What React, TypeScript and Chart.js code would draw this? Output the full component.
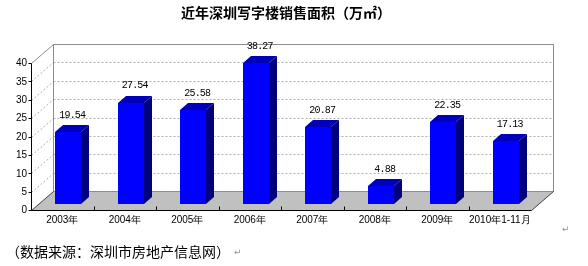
import React, { useEffect, useRef } from "react";
import { Chart, registerables } from "chart.js";

Chart.register(...registerables);

const CATEGORIES = ["2003年", "2004年", "2005年", "2006年", "2007年", "2008年", "2009年", "2010年1-11月"];
const AREA_VALUES = [19.54, 27.54, 25.58, 38.27, 20.87, 4.88, 22.35, 17.13];
const Y_TICKS = [0, 5, 10, 15, 20, 25, 30, 35, 40];
const TITLE = "近年深圳写字楼销售面积（万㎡）";
const SOURCE = "（数据来源：深圳市房地产信息网）";

const WALL_DX = 22;
const WALL_DY = -19;
const BAR_SHIFT_X = 6;
const BAR_SHIFT_Y = -6;
const BAR_DX = 8;
const BAR_DY = -7;

const threeDPlugin = {
  id: "threeD",
  beforeDatasetsDraw(chart: any) {
    const { ctx, chartArea: a, scales } = chart;
    const y = scales.y;
    const left = a.left + 0.5;
    const right = a.right + 0.5;
    const bottom = Math.round(y.getPixelForValue(0)) + 0.5;
    const top = Math.round(y.getPixelForValue(40)) + 0.5;
    ctx.save();
    ctx.fillStyle = "#ffffff";
    ctx.fillRect(left + WALL_DX, top + WALL_DY, right - left, bottom - top);
    ctx.fillStyle = "#c0c0c0";
    ctx.beginPath();
    ctx.moveTo(left, bottom);
    ctx.lineTo(right, bottom);
    ctx.lineTo(right + WALL_DX, bottom + WALL_DY);
    ctx.lineTo(left + WALL_DX, bottom + WALL_DY);
    ctx.closePath();
    ctx.fill();
    ctx.lineWidth = 1;
    ctx.strokeStyle = "#b0b0b0";
    ctx.setLineDash([2, 2]);
    for (const v of Y_TICKS) {
      if (v === 0 || v === 40) continue;
      const py = Math.round(y.getPixelForValue(v)) + 0.5;
      ctx.beginPath();
      ctx.moveTo(left + WALL_DX, py + WALL_DY);
      ctx.lineTo(right + WALL_DX, py + WALL_DY);
      ctx.stroke();
      ctx.beginPath();
      ctx.moveTo(left, py);
      ctx.lineTo(left + WALL_DX, py + WALL_DY);
      ctx.stroke();
    }
    ctx.setLineDash([]);
    ctx.strokeStyle = "#8c8c8c";
    ctx.strokeRect(left + WALL_DX, top + WALL_DY, right - left, bottom - top);
    ctx.beginPath();
    ctx.moveTo(left, top);
    ctx.lineTo(left + WALL_DX, top + WALL_DY);
    ctx.stroke();
    ctx.strokeStyle = "#404040";
    ctx.beginPath();
    ctx.moveTo(left, bottom);
    ctx.lineTo(left + WALL_DX, bottom + WALL_DY);
    ctx.moveTo(right, bottom);
    ctx.lineTo(right + WALL_DX, bottom + WALL_DY);
    ctx.stroke();
    ctx.restore();
  },
  afterDatasetsDraw(chart: any) {
    const { ctx, chartArea: a, scales } = chart;
    const x = scales.x;
    const y = scales.y;
    const meta = chart.getDatasetMeta(0);
    ctx.save();
    meta.data.forEach((el: any) => {
      const w = el.width;
      const L = Math.round(el.x - w / 2 + BAR_SHIFT_X);
      const R = Math.round(el.x + w / 2 + BAR_SHIFT_X);
      const T = Math.round(el.y + BAR_SHIFT_Y);
      const B = Math.round(el.base + BAR_SHIFT_Y);
      ctx.fillStyle = "#00007c";
      ctx.beginPath();
      ctx.moveTo(R, T);
      ctx.lineTo(R + BAR_DX, T + BAR_DY);
      ctx.lineTo(R + BAR_DX, B + BAR_DY);
      ctx.lineTo(R, B);
      ctx.closePath();
      ctx.fill();
      ctx.fillStyle = "#0000b8";
      ctx.beginPath();
      ctx.moveTo(L, T);
      ctx.lineTo(L + BAR_DX, T + BAR_DY);
      ctx.lineTo(R + BAR_DX, T + BAR_DY);
      ctx.lineTo(R, T);
      ctx.closePath();
      ctx.fill();
      ctx.fillStyle = "#0000ff";
      ctx.fillRect(L, T, R - L, B - T);
    });

    const left = a.left + 0.5;
    const right = a.right + 0.5;
    const bottom = Math.round(y.getPixelForValue(0)) + 0.5;
    const top = Math.round(y.getPixelForValue(40)) + 0.5;
    ctx.strokeStyle = "#000000";
    ctx.lineWidth = 1;
    ctx.beginPath();
    ctx.moveTo(left, top);
    ctx.lineTo(left, bottom);
    ctx.lineTo(right, bottom);
    ctx.stroke();
    ctx.beginPath();
    for (const v of Y_TICKS) {
      const py = Math.round(y.getPixelForValue(v)) + 0.5;
      ctx.moveTo(left - 3, py);
      ctx.lineTo(left, py);
    }
    for (let i = 1; i < CATEGORIES.length; i++) {
      const px = Math.round((x.getPixelForValue(i - 1) + x.getPixelForValue(i)) / 2) + 0.5;
      ctx.moveTo(px, bottom);
      ctx.lineTo(px, bottom - 4);
    }
    ctx.stroke();

    ctx.fillStyle = "#000000";
    ctx.font = '10px "Liberation Sans Narrow", "Liberation Sans", sans-serif';
    ctx.textAlign = "right";
    ctx.textBaseline = "middle";
    for (const v of Y_TICKS) {
      ctx.fillText(String(v), a.left - 4, y.getPixelForValue(v) + 0.5);
    }
    ctx.textAlign = "center";
    CATEGORIES.forEach((c, i) => {
      ctx.fillText(c, x.getPixelForValue(i), bottom + 10);
    });
    ctx.font = '10px "Liberation Mono", "DejaVu Sans Mono", monospace';
    (ctx as any).letterSpacing = "-0.8px";
    meta.data.forEach((el: any, i: number) => {
      ctx.fillText(AREA_VALUES[i].toFixed(2), el.x + BAR_SHIFT_X + BAR_DX / 2, el.y + BAR_SHIFT_Y - 17);
    });
    (ctx as any).letterSpacing = "0px";
    ctx.restore();
  },
  afterDraw(chart: any) {
    const { ctx } = chart;
    ctx.save();
    ctx.fillStyle = "#000000";
    ctx.textBaseline = "middle";
    ctx.textAlign = "left";
    ctx.font = 'bold 14px "Noto Sans CJK SC", sans-serif';
    ctx.fillText(TITLE, 181, 13);
    ctx.font = '14px "Noto Sans CJK SC", sans-serif';
    ctx.fillText(SOURCE, 6, 252);
    const w = ctx.measureText(SOURCE).width;
    ctx.fillStyle = "#909090";
    ctx.font = '9px "DejaVu Sans", sans-serif';
    ctx.fillText("↵", 6 + w + 4, 253);
    ctx.fillText("↵", 562, 230);
    ctx.restore();
  },
};

export default function App() {
  const canvasRef = useRef<HTMLCanvasElement | null>(null);
  useEffect(() => {
    if (!canvasRef.current) return;
    const chart = new Chart(canvasRef.current, {
      type: "bar",
      data: {
        labels: CATEGORIES,
        datasets: [
          {
            data: AREA_VALUES,
            backgroundColor: "rgba(0,0,0,0)",
            borderWidth: 0,
            barPercentage: 0.416,
            categoryPercentage: 1,
          },
        ],
      },
      options: {
        responsive: false,
        animation: false,
        layout: { padding: { left: 31, top: 63, right: 57, bottom: 56 } },
        plugins: {
          legend: { display: false },
          tooltip: { enabled: false },
          title: { display: false },
        },
        scales: {
          x: { type: "category", display: false },
          y: { type: "linear", min: 0, max: 40, display: false },
        },
      },
      plugins: [threeDPlugin],
    });
    return () => chart.destroy();
  }, []);
  return (
    <div style={{ position: "fixed", left: 0, top: 0, width: 588, height: 266, background: "#fff" }}>
      <canvas ref={canvasRef} width={588} height={266} style={{ display: "block" }} />
    </div>
  );
}
